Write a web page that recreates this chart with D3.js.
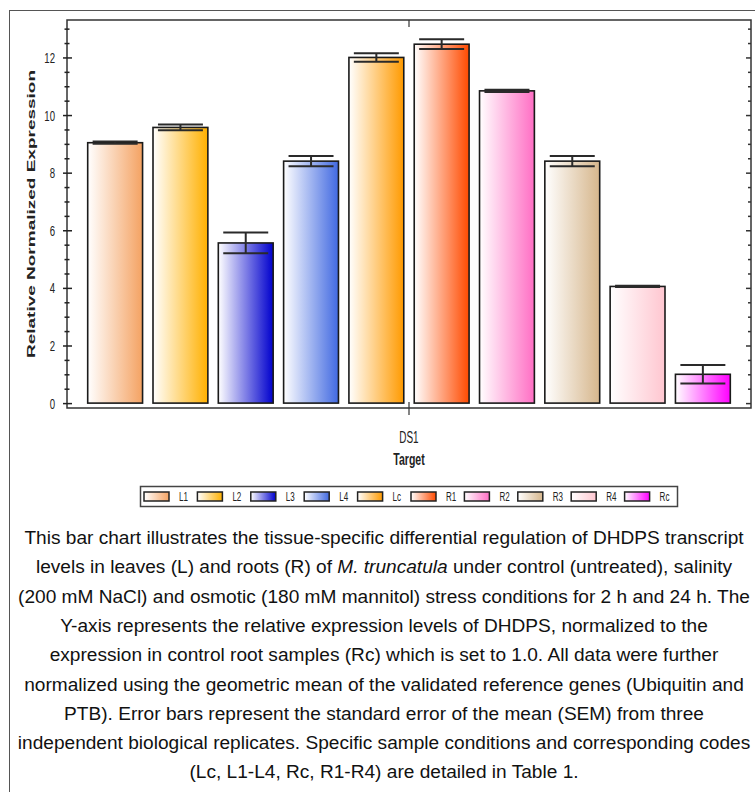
<!DOCTYPE html>
<html>
<head>
<meta charset="utf-8">
<script src="https://cdnjs.cloudflare.com/ajax/libs/d3/7.8.5/d3.min.js"></script>
<style>
  body { margin: 0; background: #fff; }
  svg { display: block; font-family: "Liberation Sans", Arial, sans-serif; }
</style>
</head>
<body>
<div id="wrapper"></div>
<script>
// values
const samples = ["L1", "L2", "L3", "L4", "Lc", "R1", "R2", "R3", "R4", "Rc"];
const expression = [9.04, 9.57, 5.56, 8.40, 12.00, 12.46, 10.84, 8.40, 4.05, 1.00];
const sem = [0.04, 0.10, 0.36, 0.18, 0.15, 0.17, 0.04, 0.18, 0.02, 0.32];
const targets = ["DS1"];
const yMajorTicks = [0, 2, 4, 6, 8, 10, 12];

const barColors = ["#f4a262", "#ffb000", "#0000cd", "#4169e1", "#ff9a00",
  "#ff4a00", "#ff6ec4", "#d6b68c", "#ffc6d0", "#ff00ff"];

const captionLines = [
  [["This bar chart illustrates the tissue-specific differential regulation of DHDPS transcript"]],
  [["levels in leaves (L) and roots (R) of "], ["M. truncatula", "italic"], [" under control (untreated), salinity"]],
  [["(200 mM NaCl) and osmotic (180 mM mannitol) stress conditions for 2 h and 24 h. The"]],
  [["Y-axis represents the relative expression levels of DHDPS, normalized to the"]],
  [["expression in control root samples (Rc) which is set to 1.0. All data were further"]],
  [["normalized using the geometric mean of the validated reference genes (Ubiquitin and"]],
  [["PTB). Error bars represent the standard error of the mean (SEM) from three"]],
  [["independent biological replicates. Specific sample conditions and corresponding codes"]],
  [["(Lc, L1-L4, Rc, R1-R4) are detailed in Table 1."]]
];

function drawChart() {
  let dimensions = {
    width: 755,
    height: 792,
    margins: { top: 20, left: 67, right: 4, bottom: 384 }
  };
  dimensions.boundedWidth = dimensions.width - dimensions.margins.left - dimensions.margins.right;
  dimensions.boundedHeight = dimensions.height - dimensions.margins.top - dimensions.margins.bottom;

  // the source picture was squeezed sideways, so chart labels get squeezed too
  const squeeze = 0.62;

  const svg = d3.select("#wrapper").append("svg")
    .attr("width", dimensions.width)
    .attr("height", dimensions.height);

  // outer frame round chart + caption
  svg.append("rect")
    .attr("x", 9.5).attr("y", 10.5)
    .attr("width", 780).attr("height", 800)
    .attr("fill", "none").attr("stroke", "#555").attr("stroke-width", 1);

  const defs = svg.append("defs");
  samples.forEach((s, i) => {
    const grad = defs.append("linearGradient")
      .attr("id", `grad-${s}`)
      .attr("x1", 0).attr("x2", 1).attr("y1", 0).attr("y2", 0);
    grad.append("stop").attr("offset", "0%").attr("stop-color", "#fff");
    grad.append("stop").attr("offset", "100%").attr("stop-color", barColors[i]);
  });

  const bounds = svg.append("g")
    .attr("transform", `translate(${dimensions.margins.left},${dimensions.margins.top})`);

  const yScale = d3.scaleLinear()
    .domain([-0.17, 13.3])
    .range([dimensions.boundedHeight, 0]);

  const xTarget = d3.scaleBand()
    .domain(targets)
    .range([0, dimensions.boundedWidth]);

  const xSample = d3.scaleBand()
    .domain(samples)
    .range([0, xTarget.bandwidth()])
    .paddingInner(0.16)
    .paddingOuter(0.317);

  // bars
  const barX = (d, i) => xTarget(targets[0]) + xSample(samples[i]);
  bounds.append("g").selectAll("rect")
    .data(expression)
    .join("rect")
    .attr("x", barX)
    .attr("y", d => yScale(d))
    .attr("width", xSample.bandwidth())
    .attr("height", d => yScale(0) - yScale(d))
    .attr("fill", (d, i) => `url(#grad-${samples[i]})`)
    .attr("stroke", "#1a1a1a")
    .attr("stroke-width", 1.6);

  // error bars (SEM)
  const capW = xSample.bandwidth() * 0.82;
  const errs = bounds.append("g")
    .attr("stroke", "#2a2a2a")
    .attr("stroke-width", 2)
    .selectAll("g")
    .data(expression)
    .join("g")
    .attr("transform", (d, i) => `translate(${barX(d, i) + xSample.bandwidth() / 2},0)`);
  errs.append("line")
    .attr("y1", (d, i) => yScale(d + sem[i]))
    .attr("y2", (d, i) => yScale(d - sem[i]));
  errs.append("line")
    .attr("x1", -capW / 2).attr("x2", capW / 2)
    .attr("y1", (d, i) => yScale(d + sem[i]))
    .attr("y2", (d, i) => yScale(d + sem[i]));
  errs.append("line")
    .attr("x1", -capW / 2).attr("x2", capW / 2)
    .attr("y1", (d, i) => yScale(d - sem[i]))
    .attr("y2", (d, i) => yScale(d - sem[i]));

  // plot frame
  bounds.append("rect")
    .attr("width", dimensions.boundedWidth)
    .attr("height", dimensions.boundedHeight)
    .attr("fill", "none")
    .attr("stroke", "#333")
    .attr("stroke-width", 1.5);

  const yMinorTicks = d3.range(0, 13.01, 0.5).filter(v => !yMajorTicks.includes(v));

  // left axis, ticks cross the line
  bounds.append("g")
    .call(d3.axisLeft(yScale).tickValues(yMajorTicks).tickSize(4).tickFormat(d3.format("d")))
    .call(g => g.select(".domain").remove())
    .call(g => g.selectAll(".tick line").attr("x1", 5).attr("stroke", "#222").attr("stroke-width", 1.5))
    .call(g => g.selectAll(".tick text")
      .attr("x", 0)
      .attr("transform", `translate(-12,0) scale(${squeeze},1)`)
      .attr("font-size", 15.5)
      .attr("fill", "#222"));
  bounds.append("g")
    .call(d3.axisLeft(yScale).tickValues(yMinorTicks).tickSize(2.5).tickFormat(""))
    .call(g => g.select(".domain").remove())
    .call(g => g.selectAll(".tick line").attr("x1", 2.5).attr("stroke", "#222").attr("stroke-width", 1.5));

  // right side mirror ticks, pointing in
  const right = bounds.append("g").attr("transform", `translate(${dimensions.boundedWidth},0)`);
  right.append("g")
    .call(d3.axisLeft(yScale).tickValues(yMajorTicks).tickSize(5).tickFormat(""))
    .call(g => g.select(".domain").remove())
    .call(g => g.selectAll(".tick line").attr("stroke", "#333").attr("stroke-width", 1.5));
  right.append("g")
    .call(d3.axisLeft(yScale).tickValues(yMinorTicks).tickSize(3).tickFormat(""))
    .call(g => g.select(".domain").remove())
    .call(g => g.selectAll(".tick line").attr("stroke", "#333").attr("stroke-width", 1.5));

  // x axis
  bounds.append("g")
    .attr("transform", `translate(0,${dimensions.boundedHeight})`)
    .call(d3.axisBottom(xTarget).tickSize(7))
    .call(g => g.select(".domain").remove())
    .call(g => g.selectAll(".tick line").attr("y1", -6).attr("stroke", "#333").attr("stroke-width", 1.2))
    .call(g => g.selectAll(".tick text")
      .attr("y", 24)
      .attr("transform", `scale(${squeeze},1)`)
      .attr("font-size", 16)
      .attr("fill", "#222"));
  bounds.append("g")
    .call(d3.axisTop(xTarget).tickSize(-7).tickFormat(""))
    .call(g => g.select(".domain").remove())
    .call(g => g.selectAll(".tick line").attr("stroke", "#333").attr("stroke-width", 1.2));

  // axis titles
  bounds.append("text")
    .attr("transform", `translate(${dimensions.boundedWidth / 2},${dimensions.boundedHeight + 57}) scale(${squeeze},1)`)
    .attr("text-anchor", "middle")
    .attr("font-size", 17)
    .attr("font-weight", "bold")
    .attr("fill", "#222")
    .text("Target");

  svg.append("text")
    .attr("transform", `translate(35,214) rotate(-90) scale(1,${squeeze})`)
    .attr("text-anchor", "middle")
    .attr("font-size", 19)
    .attr("font-weight", "bold")
    .attr("fill", "#222")
    .text("Relative Normalized Expression");

  // legend
  const legendX = d3.scaleBand().domain(samples).range([144, 678]);
  const legend = svg.append("g");
  legend.append("rect")
    .attr("x", 140.5).attr("y", 486.5)
    .attr("width", 537).attr("height", 20)
    .attr("fill", "#fff").attr("stroke", "#444").attr("stroke-width", 1.5);
  const items = legend.selectAll("g.item")
    .data(samples)
    .join("g")
    .attr("class", "item")
    .attr("transform", d => `translate(${legendX(d)},492)`);
  items.append("rect")
    .attr("width", 25).attr("height", 9)
    .attr("fill", d => `url(#grad-${d})`)
    .attr("stroke", "#222").attr("stroke-width", 1.5);
  items.append("text")
    .attr("transform", `translate(35,9) scale(${squeeze},1)`)
    .attr("font-size", 13)
    .attr("fill", "#222")
    .text(d => d);

  // caption
  const caption = svg.append("g")
    .attr("font-size", 19.1)
    .attr("fill", "#111")
    .attr("text-anchor", "middle");
  caption.selectAll("text")
    .data(captionLines)
    .join("text")
    .attr("x", 384)
    .attr("y", (d, i) => 544 + i * 29.3)
    .selectAll("tspan")
    .data(d => d)
    .join("tspan")
    .attr("font-style", d => d[1] || null)
    .text(d => d[0]);
}

drawChart();
</script>
</body>
</html>
